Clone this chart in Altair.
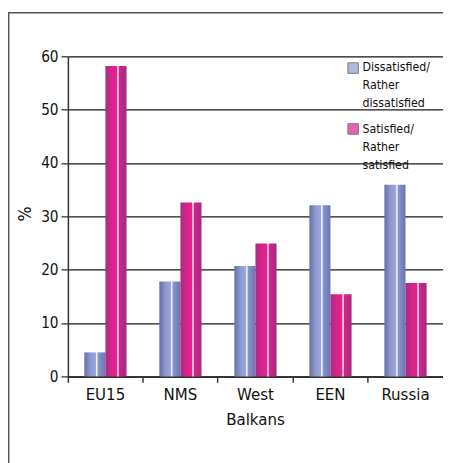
import altair as alt
import pandas as pd

categories = ["EU15", "NMS", "West Balkans", "EEN", "Russia"]
series = ["Dissatisfied/Rather dissatisfied", "Satisfied/Rather satisfied"]
dissatisfied = [4.5, 17.8, 20.7, 32.1, 35.9]
satisfied = [58.2, 32.6, 24.9, 15.4, 17.5]

rows = []
for c, d, s in zip(categories, dissatisfied, satisfied):
    rows.append({"category": c, "series": series[0], "value": d})
    rows.append({"category": c, "series": series[1], "value": s})
df = pd.DataFrame(rows)

W, H = 382, 326
FONT = "Liberation Sans Narrow, DejaVu Sans Condensed, Arial Narrow, sans-serif"

grad_blue = alt.Gradient(
    gradient="linear", x1=0, x2=1, y1=0, y2=0,
    stops=[
        alt.GradientStop(color="#6670A8", offset=0),
        alt.GradientStop(color="#8E9AD0", offset=0.3),
        alt.GradientStop(color="#9CA8DA", offset=0.55),
        alt.GradientStop(color="#F4F6FF", offset=0.58),
        alt.GradientStop(color="#F4F6FF", offset=0.61),
        alt.GradientStop(color="#8C96CE", offset=0.64),
        alt.GradientStop(color="#6A74AE", offset=1),
    ],
)
grad_pink = alt.Gradient(
    gradient="linear", x1=0, x2=1, y1=0, y2=0,
    stops=[
        alt.GradientStop(color="#A42E84", offset=0),
        alt.GradientStop(color="#D8238C", offset=0.3),
        alt.GradientStop(color="#EA1F8C", offset=0.55),
        alt.GradientStop(color="#FFF0F8", offset=0.58),
        alt.GradientStop(color="#FFF0F8", offset=0.61),
        alt.GradientStop(color="#D8228A", offset=0.64),
        alt.GradientStop(color="#A02C80", offset=1),
    ],
)

x_enc = alt.X(
    "category:N", sort=categories,
    scale=alt.Scale(paddingInner=0, paddingOuter=0),
    axis=alt.Axis(
        title=None, labelAngle=0, bandPosition=0, tickSize=6,
        labelPadding=5, labelFontSize=17, labelFont=FONT, labelColor="#111",
        labelLineHeight=25, labelExpr="split(datum.label, ' ')",
        domainColor="#333", domainWidth=2, tickColor="#333", tickWidth=1.5,
    ),
)
xo_enc = alt.XOffset(
    "series:N", scale=alt.Scale(domain=series, paddingInner=0, paddingOuter=0.777)
)
y_enc = alt.Y(
    "value:Q", scale=alt.Scale(domain=[0, 60], nice=False),
    axis=alt.Axis(
        title="%", values=[0, 10, 20, 30, 40, 50, 60], grid=True,
        gridColor="#1a1a1a", gridWidth=1.3, domainColor="#333", domainWidth=1.5,
        tickColor="#333", tickSize=7, tickWidth=1.3, labelPadding=3,
        labelFontSize=15.5, labelFont=FONT, labelColor="#111",
        titleFont=FONT, titleFontSize=18, titleFontWeight="normal", titleColor="#111",
        titleAngle=-90, titleX=-43, titleY=160, titleAlign="center", titleBaseline="middle",
    ),
)

bars_d = alt.Chart(df).transform_filter(alt.datum.series == series[0]).mark_bar(
    color=grad_blue
).encode(x=x_enc, xOffset=xo_enc, y=y_enc)
bars_s = alt.Chart(df).transform_filter(alt.datum.series == series[1]).mark_bar(
    color=grad_pink
).encode(x=x_enc, xOffset=xo_enc, y=y_enc)

leg_one = pd.DataFrame({"label": ["Dissatisfied/\nRather\ndissatisfied"]})
leg_two = pd.DataFrame({"label": ["Satisfied/\nRather\nsatisfied"]})

sq1 = alt.Chart(leg_one).mark_point(
    shape="square", filled=True, size=115, color="#8E9AD0", stroke="#444", strokeWidth=1
).encode(x=alt.value(290.5), y=alt.value(12))
sq2 = alt.Chart(leg_two).mark_point(
    shape="square", filled=True, size=115, color="#E61E8C", stroke="#444", strokeWidth=1
).encode(x=alt.value(290.5), y=alt.value(74))
t1 = alt.Chart(leg_one).mark_text(
    align="left", baseline="alphabetic", font=FONT, fontSize=12.5, color="#111",
    lineBreak="\n", lineHeight=18.3
).encode(text="label:N", x=alt.value(300), y=alt.value(15))
t2 = alt.Chart(leg_two).mark_text(
    align="left", baseline="alphabetic", font=FONT, fontSize=12.5, color="#111",
    lineBreak="\n", lineHeight=18.3
).encode(text="label:N", x=alt.value(300), y=alt.value(78.5))

frame_left = alt.Chart(leg_one).mark_rule(color="#555", strokeWidth=1.5).encode(
    x=alt.value(-60.3), y=alt.value(-44.3), y2=alt.value(H + 90)
)
frame_top = alt.Chart(leg_one).mark_rule(color="#555", strokeWidth=1.5).encode(
    x=alt.value(-61), x2=alt.value(W + 10), y=alt.value(-44.3)
)

chart = alt.layer(bars_d, bars_s, sq1, sq2, t1, t2, frame_left, frame_top).properties(
    width=W, height=H,
    autosize=alt.AutoSizeParams(type="none"),
    padding={"left": 61, "top": 45, "right": 0, "bottom": 84},
).configure_view(fill="#CBEAF4", stroke=None).configure(background="white")

chart.save("out.html", embed_options={"renderer": "svg", "actions": False})
